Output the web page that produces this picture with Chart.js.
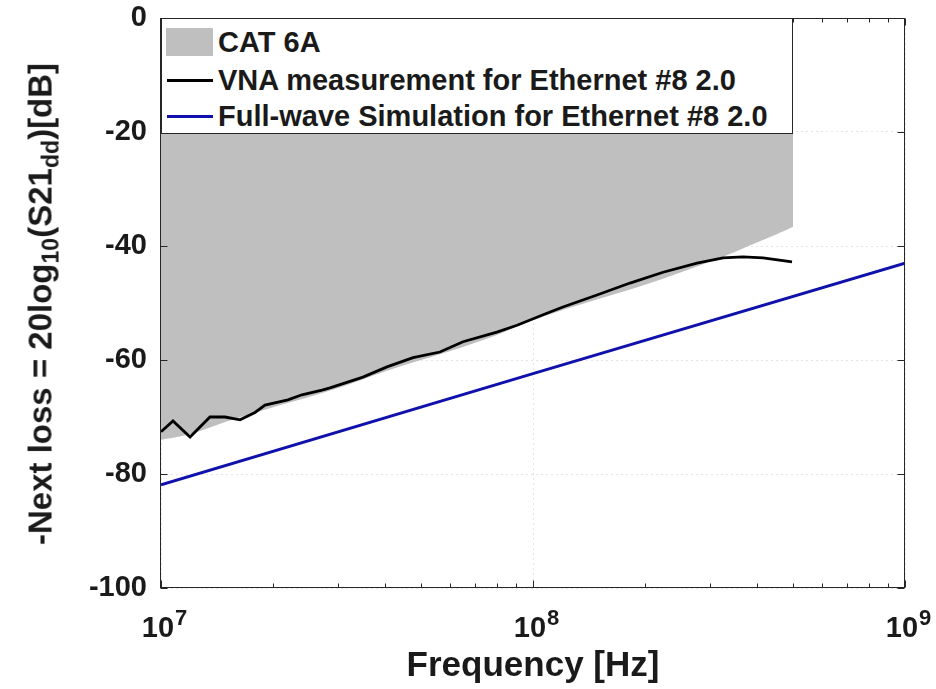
<!DOCTYPE html>
<html>
<head>
<meta charset="utf-8">
<script src="https://cdn.jsdelivr.net/npm/chart.js@4/dist/chart.umd.min.js"></script>
<style>
  body { margin: 0; background: #fff; }
  #wrap { position: relative; width: 936px; height: 689px; font-family: "Liberation Sans", Arial, Helvetica, sans-serif; color: #1a1a1a; }
  #c { position: absolute; left: 0; top: 0; }
  #legend { position: absolute; left: 161px; top: 18px; width: 632px; height: 116px; box-sizing: border-box;
            border: 1px solid #262626; background: #fff; }
  .row { position: absolute; left: 0; height: 34px; width: 100%; }
  .row span { position: absolute; left: 56px; top: 0; line-height: 34px; font-size: 29px; font-weight: bold; white-space: nowrap; }
  .sw { position: absolute; }
  #ytitle { position: absolute; left: 43px; top: 304px; transform: translate(-50%, -50%) rotate(-90deg);
            font-size: 33px; font-weight: bold; white-space: nowrap; }
  #ytitle sub { font-size: 70%; vertical-align: -0.3em; }
  #xtitle { position: absolute; left: 533px; top: 664px; transform: translate(-50%, -50%);
            font-size: 35px; font-weight: bold; white-space: nowrap; }
</style>
</head>
<body>
<div id="wrap">
  <canvas id="c" width="936" height="689"></canvas>
  <div id="legend"></div>
  <div id="ytitle">-Next loss = 20log<sub>10</sub>(S21<sub>dd</sub>)[dB]</div>
  <div id="xtitle">Frequency [Hz]</div>
</div>
<script>
// CAT 6A limit (lower edge of grey area), Hz / dB
let catFreq  = [1e7, 1.2e7, 1.5e7, 2e7, 3e7, 4e7, 5e7, 6e7, 8e7, 1e8, 1.5e8, 2e8, 2.5e8, 3e8, 3.5e8, 4e8, 4.5e8, 5e8];
let catLimit = [-74.0, -73.0, -70.8, -68.3, -64.9, -62.0, -60.0, -58.4, -55.6, -53.0, -49.3, -46.8, -44.6, -42.7, -41.0, -39.4, -38.0, -36.6];

// VNA measurement
let vnaFreq = [1e7, 1.077e7, 1.197e7, 1.354e7, 1.486e7, 1.631e7, 1.789e7, 1.904e7, 2.194e7, 2.393e7, 2.709e7, 2.847e7,
               3.491e7, 4.05e7, 4.76e7, 5.62e7, 6.484e7, 8.0e7, 9.06e7, 1.09e8, 1.204e8, 1.486e8, 1.823e8, 2.237e8,
               2.76e8, 3.243e8, 3.669e8, 4.153e8, 4.969e8];
let vnaLoss = [-72.6, -70.7, -73.5, -70.0, -70.0, -70.5, -69.2, -67.9, -67.0, -66.1, -65.3, -64.9,
               -63.0, -61.2, -59.6, -58.6, -56.8, -55.1, -53.9, -51.8, -50.7, -48.6, -46.5, -44.6,
               -43.0, -42.1, -41.9, -42.1, -42.8];

// full-wave simulation
let simFreq = [1e7, 1e8, 1e9];
let simLoss = [-81.9, -62.4, -43.0];

let labels = ['CAT 6A', 'VNA measurement for Ethernet #8 2.0', 'Full-wave Simulation for Ethernet #8 2.0'];
let colores = ['#bfbfbf', '#000000', '#1010ac'];

let yTicks = [-100, -80, -60, -40, -20, 0];
let xMajor = [1e7, 1e8, 1e9];
let xExp = ['7', '8', '9'];
let xMinor = [2e7, 3e7, 4e7, 5e7, 6e7, 7e7, 8e7, 9e7, 2e8, 3e8, 4e8, 5e8, 6e8, 7e8, 8e8, 9e8];

let fuente = '"Liberation Sans", Arial, Helvetica, sans-serif';
let ejeColor = '#262626';

function puntos(xs, ys){
    let r = [];
    for (let i = 0; i < xs.length; i++) r.push({x: xs[i], y: ys[i]});
    return r;
}

// box, inward ticks and 10^n labels
let marco = {
    id: 'marco',
    afterDatasetsDraw(chart){
        let ctx = chart.ctx;
        let a = chart.chartArea;
        let x = chart.scales.x, y = chart.scales.y;
        ctx.save();
        ctx.strokeStyle = ejeColor;
        ctx.lineWidth = 1;
        let L = Math.round(a.left) - 0.5, R = Math.round(a.right) - 0.5;
        let T = Math.round(a.top) + 0.5, B = Math.round(a.bottom) - 0.5;
        ctx.strokeRect(L, T, R - L, B - T);
        ctx.beginPath();
        for (let v of yTicks){
            let py = Math.round(y.getPixelForValue(v)) + 0.5;
            ctx.moveTo(L, py); ctx.lineTo(L + 7, py);
            ctx.moveTo(R, py); ctx.lineTo(R - 7, py);
        }
        for (let v of xMajor.concat(xMinor)){
            let px = Math.round(x.getPixelForValue(v)) + 0.5;
            let len = xMajor.includes(v) ? 7 : 4;
            ctx.moveTo(px, B); ctx.lineTo(px, B - len);
            ctx.moveTo(px, T); ctx.lineTo(px, T + len);
        }
        ctx.stroke();
        ctx.restore();
    },
    afterDraw(chart){
        let ctx = chart.ctx;
        let x = chart.scales.x;
        ctx.save();
        ctx.fillStyle = '#1a1a1a';
        ctx.textBaseline = 'alphabetic';
        ctx.textAlign = 'left';
        for (let i = 0; i < xMajor.length; i++){
            let px = x.getPixelForValue(xMajor[i]);
            ctx.font = 'bold 29px ' + fuente;
            let w1 = ctx.measureText('10').width;
            ctx.font = 'bold 22px ' + fuente;
            let w2 = ctx.measureText(xExp[i]).width;
            let x0 = px - (w1 + w2) / 2 + 3;
            ctx.font = 'bold 29px ' + fuente;
            ctx.fillText('10', x0, 637);
            ctx.font = 'bold 22px ' + fuente;
            ctx.fillText(xExp[i], x0 + w1 + 1, 625);
        }
        ctx.restore();
    }
};

Chart.defaults.font.family = fuente;

new Chart(document.getElementById('c'), {
    type: 'line',
    data: {
        datasets: [{
            label: labels[0],
            data: puntos(catFreq, catLimit),
            fill: 'end',
            backgroundColor: colores[0],
            borderWidth: 0,
            borderColor: 'rgba(0,0,0,0)',
            pointRadius: 0,
            cubicInterpolationMode: 'monotone',
            order: 3
        }, {
            label: labels[1],
            data: puntos(vnaFreq, vnaLoss),
            fill: false,
            borderColor: colores[1],
            borderWidth: 2.8,
            pointRadius: 0,
            order: 2
        }, {
            label: labels[2],
            data: puntos(simFreq, simLoss),
            fill: false,
            borderColor: colores[2],
            borderWidth: 3,
            pointRadius: 0,
            order: 1
        }]
    },
    options: {
        responsive: false,
        animation: false,
        devicePixelRatio: 1,
        layout: { padding: { top: 18, right: 31, left: 0, bottom: 0 } },
        plugins: {
            legend: { display: false },
            tooltip: { enabled: false },
            filler: { drawTime: 'beforeDatasetsDraw' }
        },
        scales: {
            x: {
                type: 'logarithmic',
                min: 1e7,
                max: 1e9,
                afterFit: function(s){ s.height = 101; s.paddingLeft = 0; s.paddingRight = 0; },
                afterBuildTicks: function(s){
                    s.ticks = xMajor.map(v => ({value: v, major: true}));
                },
                ticks: { display: false },
                grid: { color: 'rgba(0,0,0,0.10)', drawTicks: false, lineWidth: 1 },
                border: { display: false, dash: [2, 3] }
            },
            y: {
                min: -100,
                max: 0,
                afterFit: function(s){ s.width = 161; s.paddingTop = 0; s.paddingBottom = 0; },
                afterBuildTicks: function(s){
                    s.ticks = yTicks.map(v => ({value: v}));
                },
                ticks: {
                    padding: 14,
                    color: '#1a1a1a',
                    font: { size: 29, weight: 'bold' }
                },
                grid: { color: 'rgba(0,0,0,0.10)', drawTicks: false, lineWidth: 1 },
                border: { display: false, dash: [2, 3] }
            }
        }
    },
    plugins: [marco]
});

// legend box
let leyenda = document.getElementById('legend');
let filas = [6, 44, 80];
for (let i = 0; i < labels.length; i++){
    let fila = document.createElement('div');
    fila.className = 'row';
    fila.style.top = filas[i] + 'px';
    let sw = document.createElement('div');
    sw.className = 'sw';
    if (i == 0){
        sw.style.cssText = 'left:4px;top:3px;width:47px;height:28px;background:' + colores[i];
    } else {
        sw.style.cssText = 'left:5px;top:16px;width:46px;height:3px;background:' + colores[i];
    }
    let t = document.createElement('span');
    t.textContent = labels[i];
    fila.appendChild(sw);
    fila.appendChild(t);
    leyenda.appendChild(fila);
}
</script>
</body>
</html>
